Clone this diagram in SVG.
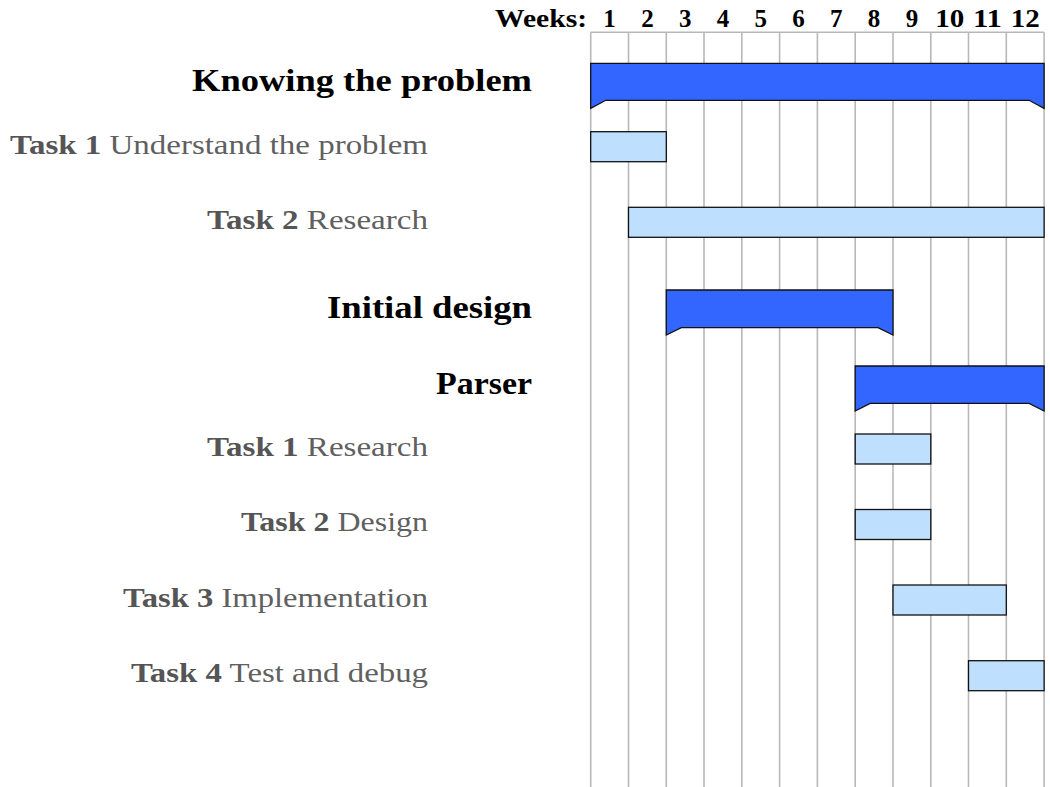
<svg xmlns="http://www.w3.org/2000/svg" width="1050" height="787" viewBox="0 0 1050 787">
<style>
.grid line{stroke:#b8b8b8;stroke-width:1.6}
.hdr{font-family:"Liberation Serif","Times New Roman",serif;font-weight:bold;font-size:25px;fill:#000}
.num{text-anchor:middle}
.glabel{font-family:"Liberation Serif","Times New Roman",serif;font-weight:bold;font-size:32px;fill:#000;text-anchor:end}
.tlabel{font-family:"Liberation Serif","Times New Roman",serif;font-size:28px;fill:#606060;text-anchor:end}
.tlabel tspan.b{font-weight:bold;fill:#555}
.gbar{fill:#3366ff;stroke:#111;stroke-width:1.3;stroke-linejoin:miter}
.tbar{fill:#bfdfff;stroke:#111;stroke-width:1.3}
</style>
<rect width="1050" height="787" fill="#fff"/>
<g id="grid" class="grid">
<line x1="590.7" y1="32.3" x2="1044.1" y2="32.3"/>
<line x1="590.7" y1="32.3" x2="590.7" y2="787"/>
<line x1="628.5" y1="32.3" x2="628.5" y2="787"/>
<line x1="666.3" y1="32.3" x2="666.3" y2="787"/>
<line x1="704.0" y1="32.3" x2="704.0" y2="787"/>
<line x1="741.8" y1="32.3" x2="741.8" y2="787"/>
<line x1="779.6" y1="32.3" x2="779.6" y2="787"/>
<line x1="817.4" y1="32.3" x2="817.4" y2="787"/>
<line x1="855.2" y1="32.3" x2="855.2" y2="787"/>
<line x1="893.0" y1="32.3" x2="893.0" y2="787"/>
<line x1="930.8" y1="32.3" x2="930.8" y2="787"/>
<line x1="968.5" y1="32.3" x2="968.5" y2="787"/>
<line x1="1006.3" y1="32.3" x2="1006.3" y2="787"/>
<line x1="1044.1" y1="32.3" x2="1044.1" y2="787"/>
</g>
<g id="header" class="hdr">
<text x="587" y="27" text-anchor="end" textLength="92" lengthAdjust="spacingAndGlyphs">Weeks:</text>
<text class="num" x="609.6" y="27">1</text>
<text class="num" x="647.4" y="27">2</text>
<text class="num" x="685.2" y="27">3</text>
<text class="num" x="722.9" y="27">4</text>
<text class="num" x="760.7" y="27">5</text>
<text class="num" x="798.5" y="27">6</text>
<text class="num" x="836.3" y="27">7</text>
<text class="num" x="874.1" y="27">8</text>
<text class="num" x="911.9" y="27">9</text>
<text class="num" x="949.7" y="27" textLength="29" lengthAdjust="spacingAndGlyphs">10</text>
<text class="num" x="987.4" y="27" textLength="29" lengthAdjust="spacingAndGlyphs">11</text>
<text class="num" x="1025.2" y="27" textLength="29" lengthAdjust="spacingAndGlyphs">12</text>
</g>
<g id="group-knowing">
<text class="glabel" x="532" y="91" textLength="340" lengthAdjust="spacingAndGlyphs">Knowing the problem</text>
<path class="gbar" d="M590.7,63.3 H1044.1 V108.3 L1029.1,100.3 H605.7 L590.7,108.3 Z"/>
</g>
<g id="task-understand">
<text class="tlabel" x="428" y="153.5" textLength="418" lengthAdjust="spacingAndGlyphs"><tspan class="b">Task 1</tspan> Understand the problem</text>
<rect class="tbar" x="590.7" y="131.7" width="75.6" height="30"/>
</g>
<g id="task-research">
<text class="tlabel" x="428" y="229" textLength="221" lengthAdjust="spacingAndGlyphs"><tspan class="b">Task 2</tspan> Research</text>
<rect class="tbar" x="628.5" y="207.3" width="415.6" height="30"/>
</g>
<g id="group-initial">
<text class="glabel" x="532" y="318" textLength="205" lengthAdjust="spacingAndGlyphs">Initial design</text>
<path class="gbar" d="M666.3,290 H893.0 V335 L878.0,327.7 H681.3 L666.3,335 Z"/>
</g>
<g id="group-parser">
<text class="glabel" x="532" y="394" textLength="96" lengthAdjust="spacingAndGlyphs">Parser</text>
<path class="gbar" d="M855.2,366 H1044.1 V411 L1029.1,403.3 H870.2 L855.2,411 Z"/>
</g>
<g id="task-parser-research">
<text class="tlabel" x="428" y="455.5" textLength="221" lengthAdjust="spacingAndGlyphs"><tspan class="b">Task 1</tspan> Research</text>
<rect class="tbar" x="855.2" y="434" width="75.6" height="30"/>
</g>
<g id="task-parser-design">
<text class="tlabel" x="428" y="531" textLength="187" lengthAdjust="spacingAndGlyphs"><tspan class="b">Task 2</tspan> Design</text>
<rect class="tbar" x="855.2" y="509.5" width="75.6" height="30"/>
</g>
<g id="task-parser-impl">
<text class="tlabel" x="428" y="606.5" textLength="305" lengthAdjust="spacingAndGlyphs"><tspan class="b">Task 3</tspan> Implementation</text>
<rect class="tbar" x="893.0" y="585" width="113.3" height="30"/>
</g>
<g id="task-parser-test">
<text class="tlabel" x="428" y="682" textLength="297" lengthAdjust="spacingAndGlyphs"><tspan class="b">Task 4</tspan> Test and debug</text>
<rect class="tbar" x="968.5" y="660.7" width="75.6" height="30"/>
</g>
</svg>
